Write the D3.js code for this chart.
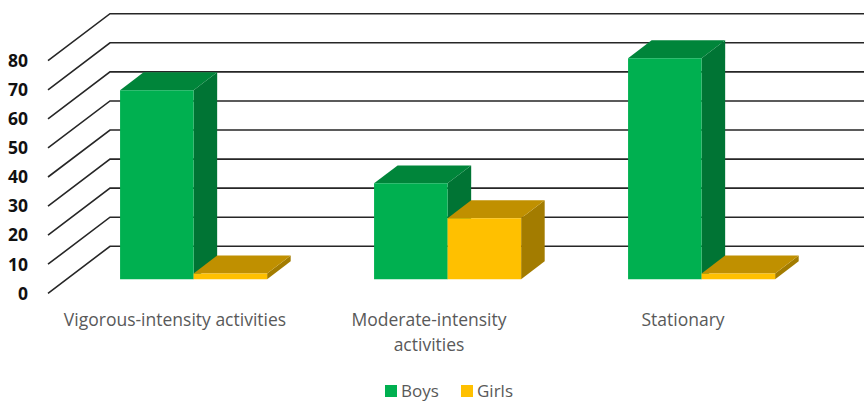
<!DOCTYPE html>
<html>
<head>
<meta charset="utf-8">
<script src="https://cdn.jsdelivr.net/npm/d3@7"></script>
<style>
  body { margin: 0; background: #fff; }
  svg { display: block; font-family: "Open Sans", "Noto Sans", sans-serif; }
</style>
</head>
<body>
<svg class="chart"></svg>
<script>
const size = {w: 864, h: 402};

// chart data
const categories = ['Vigorous-intensity activities', 'Moderate-intensity\nactivities', 'Stationary'];
const seriesNames = ['Boys', 'Girls'];
const boys = [65, 33, 76];
const girls = [2, 21, 2];
const yTicks = [0, 10, 20, 30, 40, 50, 60, 70, 80];

// face colours per series: front, top, side
const colors = {
    Boys: {front: '#00b050', top: '#00853a', side: '#007434'},
    Girls: {front: '#ffc000', top: '#c09000', side: '#a37c00'}
};

// 3d-ish setup: depth offset of the back wall and where bars sit in depth
const depth = {dx: 62, dy: -47};
const barZ = [0.3, 0.68];

const svg = d3.select('svg.chart')
    .attr('width', size.w)
    .attr('height', size.h);

// scales on the front plane
const x = d3.scaleBand()
    .domain(categories)
    .range([48, 810])
    .paddingInner(0.421)
    .paddingOuter(0.2105);

const xs = d3.scaleBand()
    .domain(seriesNames)
    .range([0, x.bandwidth()]);

const y = d3.scaleLinear()
    .domain([0, 80])
    .range([293.3, 60.7]);

// project a front-plane point back by z (0..1)
function proj(px, py, z) {
    return [px + z * depth.dx, py + z * depth.dy];
}

// gridlines: a diagonal on the side wall and a horizontal on the back wall
const gridG = svg.append('g').attr('class', 'grid');
yTicks.forEach(function(t) {
    const front = [x.range()[0], y(t)];
    const back = proj(front[0], front[1], 1);
    gridG.append('path')
        .attr('d', d3.line()([front, back, [size.w, back[1]]]))
        .attr('fill', 'none')
        .attr('stroke', '#262626')
        .attr('stroke-width', 1.6);
});

// y axis labels
svg.append('g')
    .selectAll('text')
    .data(yTicks)
    .join('text')
    .attr('x', 28)
    .attr('y', d => y(d))
    .attr('dy', '0.36em')
    .attr('text-anchor', 'end')
    .attr('font-size', 17.5)
    .attr('font-weight', 700)
    .attr('fill', '#111')
    .text(d => d);

// bars
const barData = [];
categories.forEach(function(c, i) {
    barData.push({cat: c, series: 'Boys', value: boys[i]});
    barData.push({cat: c, series: 'Girls', value: girls[i]});
});

const barG = svg.append('g').attr('class', 'bars');
barData.forEach(function(d) {
    const x0 = x(d.cat) + xs(d.series);
    const x1 = x0 + xs.bandwidth();
    const b = y(0), t = y(d.value);
    const col = colors[d.series];
    const g = barG.append('g');

    // front face
    const f = [proj(x0, b, barZ[0]), proj(x1, b, barZ[0]), proj(x1, t, barZ[0]), proj(x0, t, barZ[0])];
    // top face
    const top = [proj(x0, t, barZ[0]), proj(x1, t, barZ[0]), proj(x1, t, barZ[1]), proj(x0, t, barZ[1])];
    // right side
    const side = [proj(x1, b, barZ[0]), proj(x1, b, barZ[1]), proj(x1, t, barZ[1]), proj(x1, t, barZ[0])];

    g.append('polygon').attr('points', side.join(' ')).attr('fill', col.side);
    g.append('polygon').attr('points', top.join(' ')).attr('fill', col.top);
    g.append('polygon').attr('points', f.join(' ')).attr('fill', col.front);
});

// category labels, centred on the front plane
const catG = svg.append('g').attr('class', 'categories');
categories.forEach(function(c) {
    const lines = c.split('\n');
    const txt = catG.append('text')
        .attr('text-anchor', 'middle')
        .attr('font-size', 17.5)
        .attr('fill', '#595959');
    lines.forEach(function(l, j) {
        txt.append('tspan')
            .attr('x', x(c) + x.bandwidth() / 2)
            .attr('y', 326 + j * 25)
            .text(l);
    });
});

// legend
const legend = svg.append('g').attr('class', 'legend');
const legendX = d3.scaleOrdinal().domain(seriesNames).range([385, 461]);
seriesNames.forEach(function(s) {
    legend.append('rect')
        .attr('x', legendX(s))
        .attr('y', 385)
        .attr('width', 12)
        .attr('height', 12)
        .attr('fill', colors[s].front);
    legend.append('text')
        .attr('x', legendX(s) + 16)
        .attr('y', 397)
        .attr('font-size', 17)
        .attr('fill', '#595959')
        .text(s);
});
</script>
</body>
</html>
